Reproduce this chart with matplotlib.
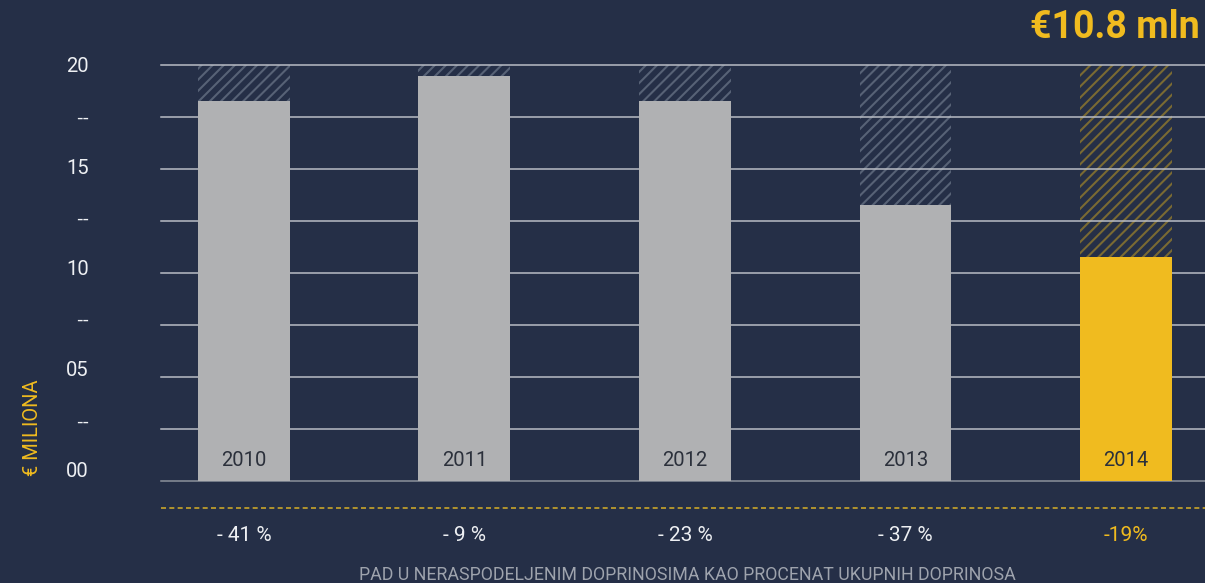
import matplotlib
matplotlib.use("Agg")
import matplotlib.pyplot as plt

years = ["2010", "2011", "2012", "2013", "2014"]
values = [18.27, 19.47, 18.27, 13.27, 10.77]
full_height = [20, 20, 20, 20, 20]
changes = ["- 41 %", "- 9 %", "- 23 %", "- 37 %", "-19%"]
grid_vals = [0, 2.5, 5, 7.5, 10, 12.5, 15, 17.5, 20]
tick_labels = ["00", "--", "05", "--", "10", "--", "15", "--", "20"]

BG = "#252f47"
GRAY = "#b0b1b3"
YELLOW = "#f0bb1f"
GRID = "#b9bdc5"

plt.rcParams["font.family"] = ["Roboto", "DejaVu Sans"]
plt.rcParams["hatch.linewidth"] = 1.5

W, H = 1205, 583
fig = plt.figure(figsize=(W / 100, H / 100), dpi=100, facecolor=BG)
ax = fig.add_axes([161 / W, 1 - 481 / H, 1 - 161 / W, (481 - 65) / H])
ax.set_facecolor(BG)

x = list(range(len(years)))
bar_colors = [GRAY] * 4 + [YELLOW]
hatch_colors = ["#576276"] * 4 + ["#7a6a33"]

# hatched "potential" bars up to 20
for xi, h, hc in zip(x, full_height, hatch_colors):
    ax.bar(xi, h, width=0.417, color="none", edgecolor=hc, hatch="///",
           linewidth=0, zorder=1)

# grid lines visible through the hatch
for t in grid_vals:
    ax.axhline(t, color=GRID if t > 0 else "#8c919b", linewidth=1.1,
               zorder=2, clip_on=False)

ax.bar(x, values, width=0.417, color=bar_colors, linewidth=0, zorder=3)

for xi, yr in zip(x, years):
    ax.text(xi, 1.0, yr, ha="center", va="center", fontsize=14.5,
            color="#2b303b", zorder=4)

ax.set_xlim(-0.376, 4.358)
ax.set_ylim(0, 20)
ax.set_xticks([])
# labels in the original sit slightly above their grid lines toward the bottom
label_pos = [0.53 + g * (19.47 / 20) for g in grid_vals]
ax.set_yticks(label_pos)
ax.set_yticklabels(tick_labels)
ax.tick_params(axis="y", length=0, pad=52, labelsize=14.5, labelcolor="#eef0f3")
for lab in ax.get_yticklabels():
    if lab.get_text() == "--":
        lab.set_family("DejaVu Sans")
        lab.set_fontsize(13)
for s in ax.spines.values():
    s.set_visible(False)

# dashed yellow separator and percentage changes
ax.plot([-0.376, 4.358], [-1.3, -1.3], color="#c9a52a", linestyle=(0, (3, 2)),
        linewidth=1.2, clip_on=False)
for i, (xi, c) in enumerate(zip(x, changes)):
    ax.text(xi, -2.6, c, ha="center", va="center", fontsize=15,
            color=YELLOW if i == len(x) - 1 else "#eef0f3", clip_on=False)

fig.text(687 / W, 1 - 575 / H, "PAD U NERASPODELJENIM DOPRINOSIMA KAO PROCENAT UKUPNIH DOPRINOSA",
         ha="center", va="center", fontsize=12.8, color="#9ea3ad")
fig.text(32 / W, 1 - 428 / H, "€ MILIONA", rotation=90, ha="center", va="center",
         fontsize=14.5, color=YELLOW)
fig.text(1200 / W, 1 - 27 / H, "€10.8 mln", ha="right", va="center",
         fontsize=27, fontweight="bold", color=YELLOW)

fig.savefig("out.png", dpi=100, facecolor=BG)
